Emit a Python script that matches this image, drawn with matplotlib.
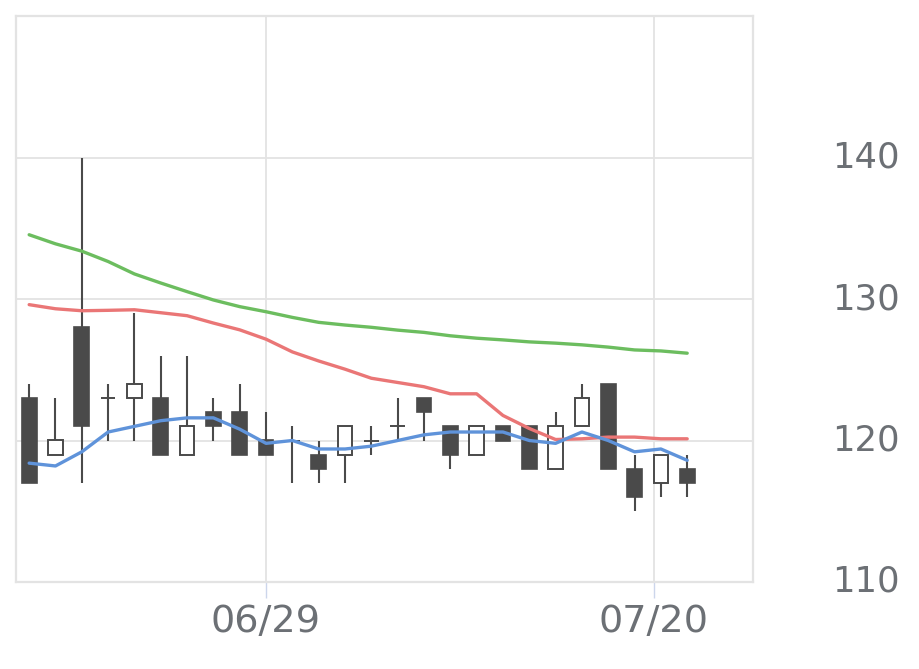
import matplotlib
matplotlib.use("Agg")
import matplotlib.pyplot as plt
import numpy as np

# daily candles (one per trading day)
opens = [123, 119, 128, 123, 123, 123, 119, 122, 122, 120, 120, 119, 119, 120, 121, 123, 121, 119, 121, 121,
         118, 121, 124, 118, 117, 118]
closes = [117, 120, 121, 123, 124, 119, 121, 121, 119, 119, 120, 118, 121, 120, 121, 122, 119, 121, 120, 118,
          121, 123, 118, 116, 119, 117]
highs = [124, 123, 140, 124, 129, 126, 126, 123, 124, 122, 121, 120, 121, 121, 123, 123, 121, 121, 121, 121,
         122, 124, 124, 119, 119, 119]
lows = [117, 119, 117, 120, 120, 119, 119, 120, 119, 119, 117, 117, 117, 119, 120, 120, 118, 119, 120, 118,
        118, 121, 118, 115, 116, 116]

# moving averages
ma_short = [118.4, 118.2, 119.2, 120.6, 121.0, 121.4, 121.6, 121.6, 120.8, 119.8, 120.0, 119.4, 119.4, 119.6,
            120.0, 120.4, 120.6, 120.6, 120.6, 120.0, 119.8, 120.6, 120.0, 119.2, 119.4, 118.6]
ma_mid = [129.6, 129.31, 129.17, 129.2, 129.24, 129.03, 128.82, 128.3, 127.82, 127.16, 126.26, 125.62, 125.04,
          124.4, 124.1, 123.8, 123.3, 123.3, 121.77, 120.85, 120.07, 120.12, 120.24, 120.24, 120.12, 120.12]
ma_long = [134.54, 133.9, 133.38, 132.65, 131.77, 131.13, 130.52, 129.93, 129.46, 129.1, 128.7, 128.35, 128.16,
           128.0, 127.8, 127.64, 127.4, 127.23, 127.11, 126.97, 126.88, 126.76, 126.6, 126.4, 126.33, 126.17]

date_ticks = [9, 23.73]
date_labels = ["06/29", "07/20"]
price_ticks = [110, 120, 130, 140]

grid_col = "#e3e3e3"
text_col = "#6c7075"
dark = "#4a4a4a"

fig = plt.figure(figsize=(9.2, 6.69), dpi=100)
ax = fig.add_axes([16 / 920, 87 / 669, 737 / 920, 566 / 669])

x = np.arange(len(opens))
o = np.array(opens, dtype=float)
c = np.array(closes, dtype=float)
up = c >= o

ax.vlines(x, lows, highs, color=dark, linewidth=1.5, zorder=3)
bottoms = np.minimum(o, c)
heights = np.abs(c - o)
ax.bar(x[~up], heights[~up], bottom=bottoms[~up], width=0.56, color=dark, edgecolor=dark, linewidth=1.2,
       zorder=4)
ax.bar(x[up], heights[up], bottom=bottoms[up], width=0.56, color="white", edgecolor=dark, linewidth=1.4,
       zorder=4)

ax.plot(x, ma_long, color="#6cbd5f", linewidth=2.4, zorder=5, solid_capstyle="round")
ax.plot(x, ma_mid, color="#ea7676", linewidth=2.4, zorder=5, solid_capstyle="round")
ax.plot(x, ma_short, color="#5f93da", linewidth=2.4, zorder=5, solid_capstyle="round")

ax.set_xlim(-0.5, 27.5)
ax.set_ylim(110, 150)

ax.set_yticks(price_ticks)
ax.yaxis.tick_right()
ax.tick_params(axis="y", length=0, pad=106, labelsize=25.5, labelcolor=text_col)
for lab in ax.get_yticklabels():
    lab.set_horizontalalignment("right")
    lab.set_verticalalignment("center")

ax.set_xticks(date_ticks)
ax.set_xticklabels(date_labels)
ax.tick_params(axis="x", length=11.5, width=1, color="#ccd6eb", pad=4, labelsize=27.5, labelcolor=text_col)

ax.grid(True, color=grid_col, linewidth=1.3, zorder=0)
ax.set_axisbelow(True)
for sp in ax.spines.values():
    sp.set_color(grid_col)
    sp.set_linewidth(1.6)

fig.savefig("out.png", dpi=100, facecolor="white")
